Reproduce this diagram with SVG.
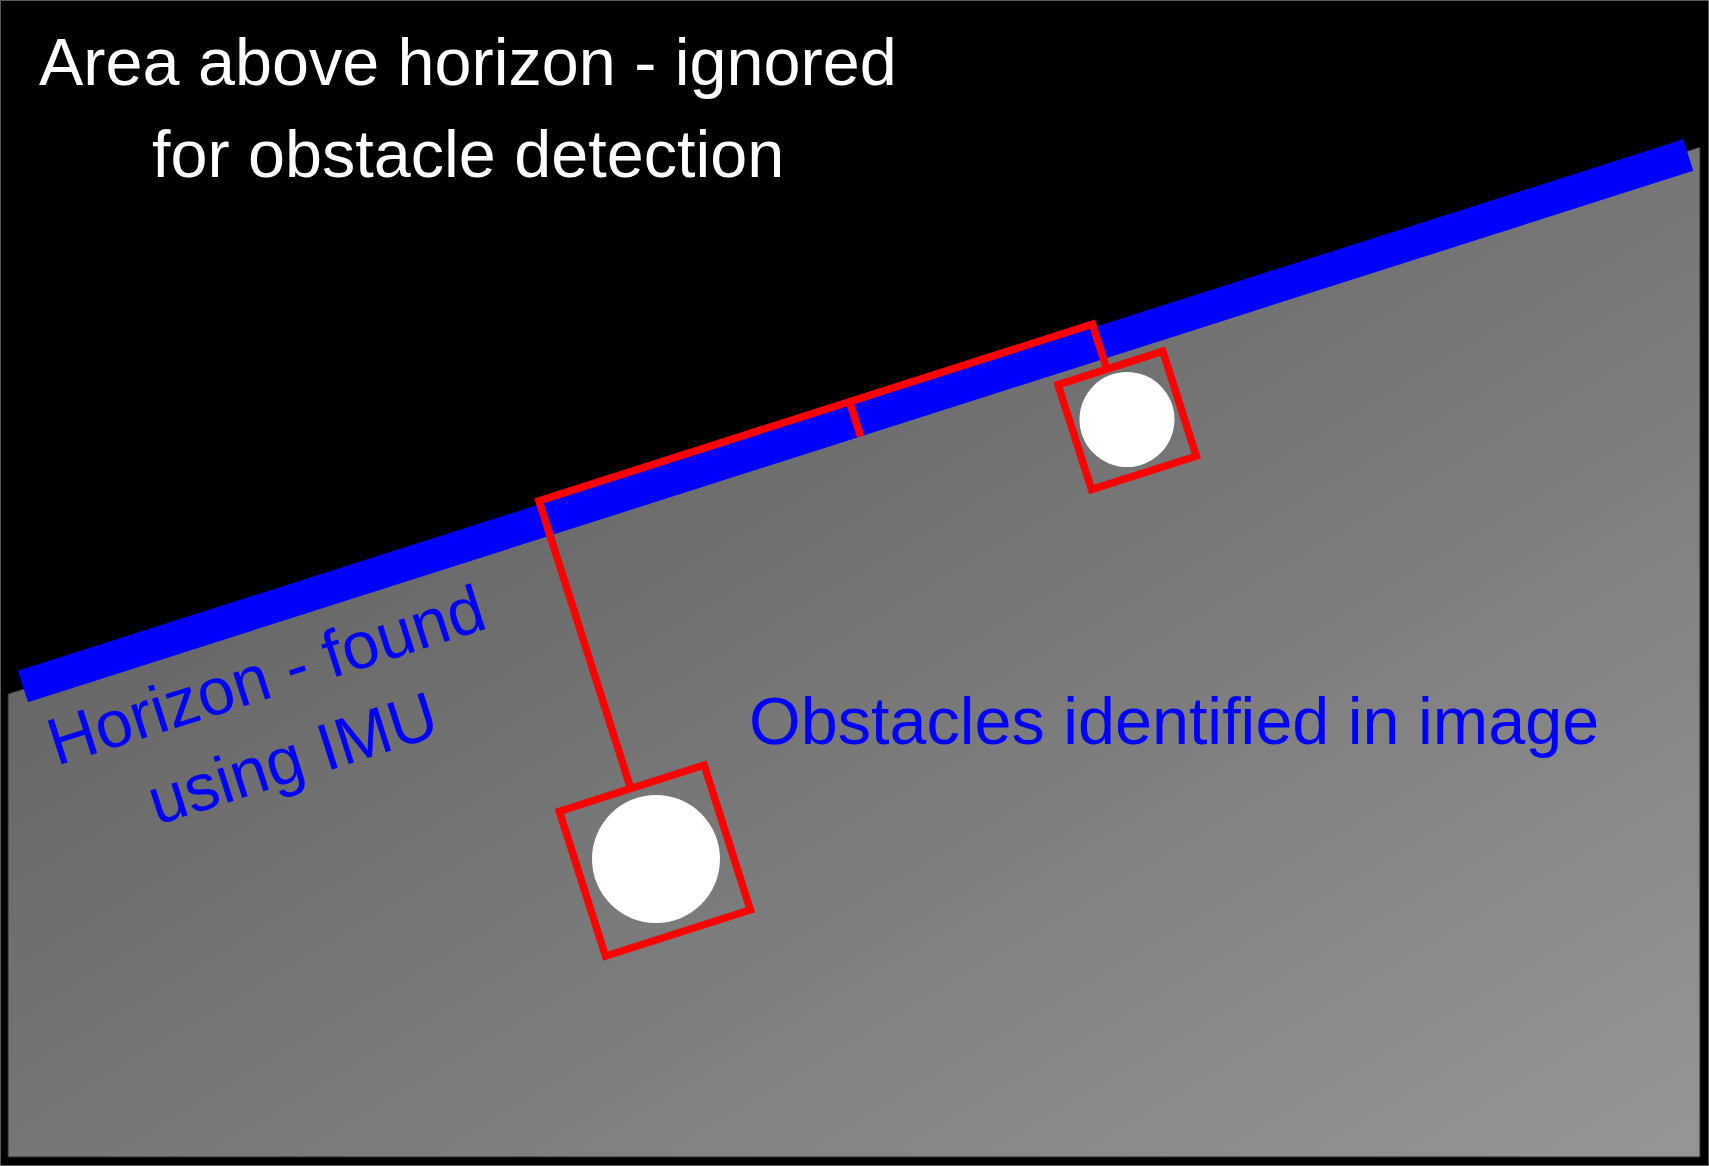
<svg xmlns="http://www.w3.org/2000/svg" width="1709" height="1166" viewBox="0 0 1709 1166">
  <defs>
    <linearGradient id="groundGrad" gradientUnits="userSpaceOnUse" x1="306.9" y1="515.6" x2="953.3" y2="1601.8">
      <stop offset="0" stop-color="#676767"/>
      <stop offset="1" stop-color="#969696"/>
    </linearGradient>
    <style>
      .lbl { font-family: "Liberation Sans", Arial, sans-serif; font-size: 66.5px; }
      .white { fill: #ffffff; }
      .blue { fill: #0000ff; }
      .red { fill: none; stroke: #ff0000; stroke-width: 7.5; stroke-linejoin: miter; }
      .obst { fill: #ffffff; }
    </style>
  </defs>

  <g id="background">
    <rect x="0.5" y="0.5" width="1708" height="1165" fill="#000000" stroke="#5a5a5a" stroke-width="1"/>
    <polygon points="8,694 1700,147 1700,1157 8,1157" fill="url(#groundGrad)" stroke="#2a2a2a" stroke-width="1"/>
  </g>

  <g id="horizon" transform="translate(23,686.5) rotate(-17.7)">
    <line x1="0" y1="0" x2="1748" y2="0" stroke="#0000ff" stroke-width="33"/>
  </g>

  <g id="connectors" transform="translate(23,686.5) rotate(-17.7)">
    <polyline class="red" points="548,282 548,-20 1129,-20 1129,27"/>
    <line class="red" x1="874" y1="-20" x2="874" y2="16.5" stroke-linecap="butt"/>
  </g>

  <g id="obstacle-1">
    <rect class="red" x="473" y="282" width="152" height="152" transform="translate(23,686.5) rotate(-17.7)"/>
    <circle class="obst" cx="656" cy="859" r="64"/>
  </g>

  <g id="obstacle-2">
    <rect class="red" x="1077.8" y="27.2" width="110" height="110" transform="translate(23,686.5) rotate(-17.7)"/>
    <circle class="obst" cx="1127" cy="419.5" r="47.5"/>
  </g>

  <g id="label-above">
    <text class="lbl white" x="39" y="85">Area above horizon - ignored</text>
    <text class="lbl white" x="152" y="177">for obstacle detection</text>
  </g>

  <g id="label-horizon" transform="translate(23,686.5) rotate(-17.7)">
    <text class="lbl blue" x="235" y="86" text-anchor="middle">Horizon - found</text>
    <text class="lbl blue" x="235" y="173" text-anchor="middle">using IMU</text>
  </g>

  <g id="label-obstacles">
    <text class="lbl blue" x="749" y="744">Obstacles identified in image</text>
  </g>
</svg>
